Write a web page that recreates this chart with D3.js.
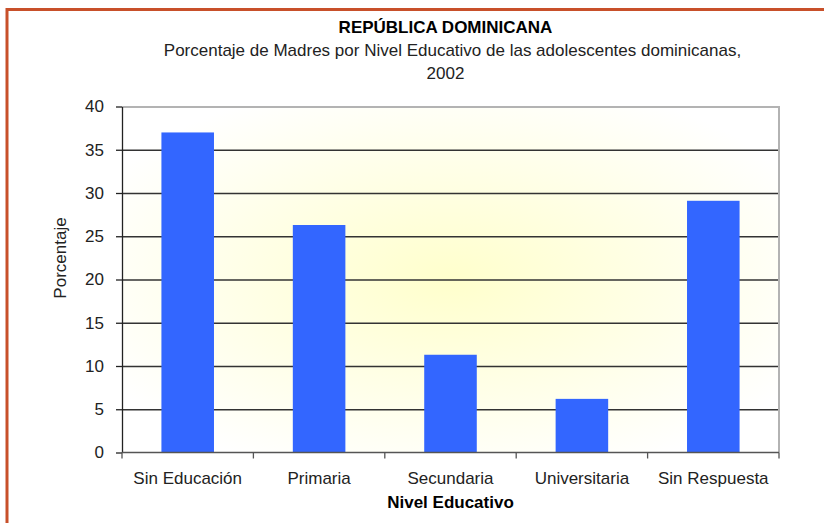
<!DOCTYPE html>
<html>
<head>
<meta charset="utf-8">
<script src="https://cdn.jsdelivr.net/npm/d3@7"></script>
<style>
  html, body { margin: 0; padding: 0; background: #fff; }
  #chart { width: 824px; height: 523px; }
  text { font-family: "Liberation Sans", Arial, sans-serif; }
</style>
</head>
<body>
<div id="chart"></div>
<script>
const categories = ['Sin Educación', 'Primaria', 'Secundaria', 'Universitaria', 'Sin Respuesta'];
const values = [37.0, 26.3, 11.3, 6.2, 29.1];
const yTicks = [0, 5, 10, 15, 20, 25, 30, 35, 40];

const width = 824;
const height = 523;
const margin = { top: 106.5, right: 45, bottom: 70.5, left: 122 };
const chartWidth = width - margin.left - margin.right;
const chartHeight = height - margin.top - margin.bottom;
const fontSize = '17px';

const svg = d3.select('#chart')
    .append('svg')
    .attr('width', width)
    .attr('height', height);

// background gradient for plot area
const defs = svg.append('defs');
const grad = defs.append('radialGradient')
    .attr('id', 'plotBg')
    .attr('cx', '50%').attr('cy', '50%')
    .attr('r', '60%');
grad.append('stop').attr('offset', '0%').attr('stop-color', '#ffffcc');
grad.append('stop').attr('offset', '100%').attr('stop-color', '#ffffff');

// outer frame (cropped at right and bottom)
svg.append('rect')
    .attr('x', 7)
    .attr('y', 9.5)
    .attr('width', width + 20)
    .attr('height', height + 20)
    .style('fill', 'none')
    .style('stroke', '#c8502a')
    .style('stroke-width', 3);

const x = d3.scaleBand()
    .domain(categories)
    .range([0, chartWidth])
    .paddingInner(0.6)
    .paddingOuter(0.3);

const xEdges = d3.scaleBand()
    .domain(categories)
    .range([0, chartWidth]);

const y = d3.scaleLinear()
    .domain([0, 40])
    .range([chartHeight, 0]);

const g = svg.append('g')
    .attr('transform', `translate(${margin.left}, ${margin.top})`);

g.append('rect')
    .attr('width', chartWidth)
    .attr('height', chartHeight)
    .style('fill', 'url(#plotBg)');

// grid lines
g.append('g')
    .call(d3.axisLeft(y)
        .tickValues(yTicks.filter(t => t > 0 && t < 40))
        .tickSize(-chartWidth)
        .tickFormat(''))
    .call(a => a.select('.domain').remove())
    .selectAll('line')
    .style('stroke', '#333')
    .style('stroke-width', 1.3);

// plot border: top and right in gray
g.append('path')
    .attr('d', `M0,0.5H${chartWidth}V${chartHeight}`)
    .style('fill', 'none')
    .style('stroke', '#b3b3b3')
    .style('stroke-width', 2);

// bars
g.selectAll('rect.bar')
    .data(values)
    .enter().append('rect')
    .attr('class', 'bar')
    .attr('x', (d, i) => x(categories[i]))
    .attr('y', d => y(d))
    .attr('width', x.bandwidth())
    .attr('height', d => chartHeight - y(d))
    .style('fill', '#3366ff');

// y axis
const yAxis = g.append('g')
    .call(d3.axisLeft(y).tickValues(yTicks).tickSize(6).tickPadding(12).tickSizeOuter(0));
yAxis.select('.domain').style('stroke', '#222').style('stroke-width', 1.3);
yAxis.selectAll('line').style('stroke', '#222').style('stroke-width', 1.3);
yAxis.selectAll('text')
    .style('font-size', fontSize)
    .style('fill', '#222');

// x axis with ticks at category boundaries
const xAxisG = g.append('g')
    .attr('transform', `translate(0, ${chartHeight})`);
xAxisG.append('line')
    .attr('x1', 0).attr('x2', chartWidth)
    .style('stroke', '#555').style('stroke-width', 1.5);
const bounds = categories.map(c => xEdges(c)).concat([chartWidth]);
xAxisG.selectAll('line.tick')
    .data(bounds)
    .enter().append('line')
    .attr('class', 'tick')
    .attr('x1', d => d).attr('x2', d => d)
    .attr('y1', 0).attr('y2', 6)
    .style('stroke', '#555').style('stroke-width', 1.3);
xAxisG.selectAll('text.cat')
    .data(categories)
    .enter().append('text')
    .attr('class', 'cat')
    .attr('x', d => xEdges(d) + xEdges.bandwidth() / 2)
    .attr('y', 31)
    .attr('text-anchor', 'middle')
    .style('font-size', fontSize)
    .style('fill', '#222')
    .text(d => d);

// titles
const cx = margin.left + chartWidth / 2;
svg.append('text')
    .attr('x', cx - 5)
    .attr('y', 33)
    .attr('text-anchor', 'middle')
    .style('font-size', fontSize)
    .style('font-weight', 'bold')
    .style('fill', '#000')
    .text('REPÚBLICA DOMINICANA');
svg.append('text')
    .attr('x', cx + 2)
    .attr('y', 56)
    .attr('text-anchor', 'middle')
    .style('font-size', fontSize)
    .style('fill', '#222')
    .text('Porcentaje de Madres por Nivel Educativo de las adolescentes dominicanas,');
svg.append('text')
    .attr('x', cx - 5)
    .attr('y', 79)
    .attr('text-anchor', 'middle')
    .style('font-size', fontSize)
    .style('fill', '#222')
    .text('2002');

// axis labels
svg.append('text')
    .attr('x', cx)
    .attr('y', 508)
    .attr('text-anchor', 'middle')
    .style('font-size', fontSize)
    .style('font-weight', 'bold')
    .style('fill', '#000')
    .text('Nivel Educativo');

svg.append('text')
    .attr('transform', 'rotate(-90)')
    .attr('x', -258)
    .attr('y', 66)
    .attr('text-anchor', 'middle')
    .style('font-size', fontSize)
    .style('fill', '#222')
    .text('Porcentaje');
</script>
</body>
</html>
